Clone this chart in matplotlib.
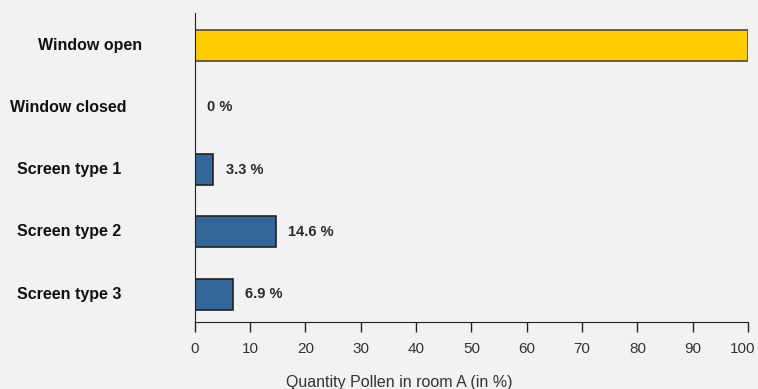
import matplotlib.pyplot as plt
from matplotlib.ticker import FixedLocator
from matplotlib.transforms import offset_copy, blended_transform_factory, ScaledTranslation

plt.rcParams['font.family'] = ['Liberation Sans', 'DejaVu Sans']

# Data
categories = ["Window open", "Window closed", "Screen type 1", "Screen type 2", "Screen type 3"]
values = [100, 0, 3.3, 14.6, 6.9]
value_labels = [None, "0 %", "3.3 %", "14.6 %", "6.9 %"]
bar_colors = ["#ffcc00", "#336699", "#336699", "#336699", "#336699"]
edge_colors = ["#5a4444", "#222222", "#222222", "#222222", "#222222"]
x_ticks = [0, 10, 20, 30, 40, 50, 60, 70, 80, 90, 100]

W, H = 758, 389
fig = plt.figure(figsize=(W / 100, H / 100), dpi=100)
fig.patch.set_facecolor("#f2f2f2")
ax = fig.add_axes([0.257, 0.172, 0.73, 0.795])
ax.set_facecolor("none")

ypos = list(range(len(categories)))
ax.barh(ypos, values, height=0.5, color=bar_colors, edgecolor=edge_colors, linewidth=1.2, zorder=2)

# value labels to the right of each bar
for y, v, lab in zip(ypos, values, value_labels):
    if lab is None:
        continue
    tr = offset_copy(ax.transData, fig=fig, x=9, y=0, units="points")
    ax.text(v, y, lab, transform=tr, ha="left", va="center",
            fontsize=10.5, fontweight="bold", color="#2a2a2a")

ax.set_xlim(0, 100)
ax.set_ylim(4.45, -0.52)

for side in ["top", "right"]:
    ax.spines[side].set_visible(False)
ax.spines["left"].set_color("#222222")
ax.spines["bottom"].set_color("#222222")

ax.xaxis.set_major_locator(FixedLocator(x_ticks))
ax.set_xticklabels([str(t) for t in x_ticks])
ax.tick_params(axis="x", direction="out", length=7, width=1, color="#222222",
               labelsize=11, labelcolor="#333333", pad=7)
# pull the last tick label in so it stays inside the figure
last = ax.get_xticklabels()[-1]
last.set_transform(last.get_transform() + ScaledTranslation(-6 / 100, 0, fig.dpi_scale_trans))

# category names drawn as text in the left margin
ax.set_yticks([])
name_tr = blended_transform_factory(fig.transFigure, ax.transData)
name_left = {"Window open": 38, "Window closed": 10}
for y, name in zip(ypos, categories):
    x_px = name_left.get(name, 17)
    ax.text(x_px / W, y, name, transform=name_tr, ha="left", va="center",
            fontsize=11.5, fontweight="bold", color="#111111")

# axis title sits low, partly past the bottom edge
fig.text(399 / W, 1.5 / H, "Quantity Pollen in room A (in %)", ha="center", va="baseline",
         fontsize=11.5, color="#333333")

fig.savefig("out.png", dpi=100, facecolor=fig.get_facecolor())
